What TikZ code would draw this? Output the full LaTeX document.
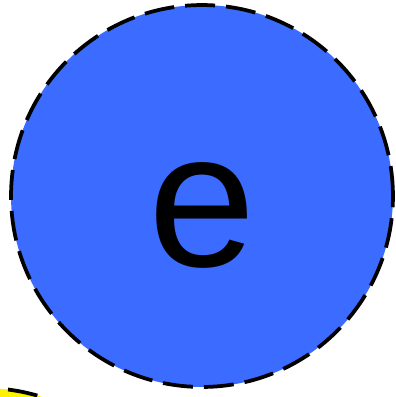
\documentclass[tikz,border=0pt]{standalone}
\usepackage{fontspec}
\setmainfont{Liberation Sans}
\usetikzlibrary{positioning}
\definecolor{stateblue}{RGB}{59,108,255}

\begin{document}
\begin{tikzpicture}[
  x=0.02cm, y=0.02cm,
  state/.style={circle, draw=black, line width=0.075cm, dash pattern=on 0.6cm off 0.22cm, minimum size=7.64cm, inner sep=0pt},
  bigletter/.style={font=\fontsize{110}{110}\selectfont, text height=2.81cm, text depth=0pt},
]
\clip (0,0) rectangle (396,-397);
\useasboundingbox (0,0) rectangle (396,-397);
\node[state, fill=stateblue, bigletter] (e) at (202,-196) {e};
\node[state, fill=yellow] (next) at (-16,-579) {};
\end{tikzpicture}
\end{document}
